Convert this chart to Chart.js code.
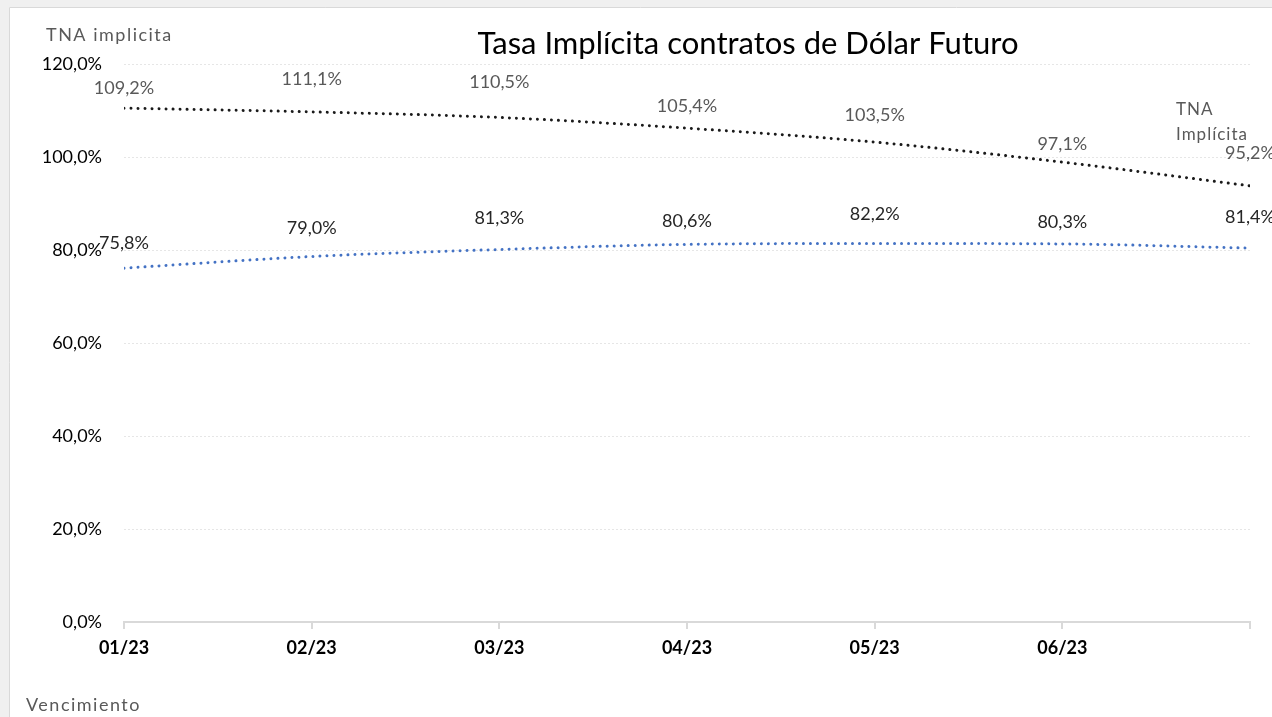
<!DOCTYPE html>
<html>
<head>
<meta charset="utf-8">
<script src="https://cdn.jsdelivr.net/npm/chart.js@4.4.1/dist/chart.umd.min.js"></script>
<style>
  html, body { margin: 0; padding: 0; background: #f0f0f0; }
  #wrap { position: absolute; left: 0; top: 0; width: 1272px; height: 717px; }
</style>
</head>
<body>
<div id="wrap"><canvas id="tasaChart" width="1272" height="717"></canvas></div>
<script>
// vencimientos (la ultima marca no tiene etiqueta en el original)
const xLabels = ['01/23', '02/23', '03/23', '04/23', '05/23', '06/23', ''];
const xPos = [0, 1, 2, 3, 4, 5, 6];

// valores etiquetados de cada contrato
const tnaImplicita = [109.2, 111.1, 110.5, 105.4, 103.5, 97.1, 95.2];
const tnaAzul = [75.8, 79.0, 81.3, 80.6, 82.2, 80.3, 81.4];

// lineas de tendencia
const tendImplicita = [110.5, 109.7, 108.5, 106.2, 103.2, 98.9, 93.8];
const tendAzul = [76.1, 78.6, 80.1, 81.2, 81.4, 81.3, 80.4];

const yTicks = [0, 20, 40, 60, 80, 100, 120];

const FONT = 'Lato, "Open Sans", sans-serif';

function fmtPct(v) {
  return v.toFixed(1).replace('.', ',') + '%';
}

function toPoints(arr) {
  return arr.map((v, i) => ({ x: xPos[i], y: v }));
}

// fondo, textos y etiquetas de datos
const textosPlugin = {
  id: 'textos',
  beforeDraw(chart) {
    const ctx = chart.ctx;
    ctx.save();
    ctx.fillStyle = '#f0f0f0';
    ctx.fillRect(0, 0, chart.width, chart.height);
    ctx.fillStyle = '#ffffff';
    ctx.fillRect(9, 7, chart.width - 9, chart.height - 7);
    ctx.strokeStyle = '#d9d9d9';
    ctx.lineWidth = 1;
    ctx.beginPath();
    ctx.moveTo(9.5, chart.height);
    ctx.lineTo(9.5, 7.5);
    ctx.lineTo(chart.width, 7.5);
    ctx.stroke();
    ctx.restore();
  },
  afterDraw(chart) {
    const ctx = chart.ctx;
    ctx.save();
    ctx.textBaseline = 'middle';

    ctx.fillStyle = '#000000';
    ctx.textAlign = 'center';
    ctx.font = '31px ' + FONT;
    ctx.fillText('Tasa Implícita contratos de Dólar Futuro', 748, 44);

    ctx.fillStyle = '#595959';
    ctx.textAlign = 'left';
    ctx.font = '18px ' + FONT;
    ctx.letterSpacing = '1.5px';
    ctx.fillText('TNA implicita', 46, 35);
    ctx.fillText('Vencimiento', 26, 705);

    ctx.font = '17px ' + FONT;
    ctx.letterSpacing = '1px';
    ctx.fillText('TNA', 1176, 110);
    ctx.fillText('Implícita', 1176, 135);
    ctx.letterSpacing = '0px';

    // etiquetas de datos
    ctx.textAlign = 'center';
    ctx.font = '18px ' + FONT;
    [[0, '#595959'], [1, '#262626']].forEach(([idx, col]) => {
      const meta = chart.getDatasetMeta(idx);
      const vals = chart.data.datasets[idx].data;
      ctx.fillStyle = col;
      meta.data.forEach((pt, i) => {
        ctx.fillText(fmtPct(vals[i].y), pt.x, pt.y - 26);
      });
    });
    ctx.restore();
  }
};

const ctx = document.getElementById('tasaChart').getContext('2d');
const tasaChart = new Chart(ctx, {
  type: 'line',
  data: {
    datasets: [
      {
        label: 'TNA Implícita',
        data: toPoints(tnaImplicita),
        showLine: false,
        pointRadius: 0
      },
      {
        label: 'TNA',
        data: toPoints(tnaAzul),
        showLine: false,
        pointRadius: 0
      },
      {
        label: 'Tendencia TNA Implícita',
        data: toPoints(tendImplicita),
        borderColor: '#1a1a1a',
        borderWidth: 3,
        borderDash: [0.01, 7],
        borderCapStyle: 'round',
        cubicInterpolationMode: 'monotone',
        pointRadius: 0,
        fill: false
      },
      {
        label: 'Tendencia TNA',
        data: toPoints(tendAzul),
        borderColor: '#4472c4',
        borderWidth: 3,
        borderDash: [0.01, 7],
        borderCapStyle: 'round',
        cubicInterpolationMode: 'monotone',
        pointRadius: 0,
        fill: false
      }
    ]
  },
  options: {
    responsive: false,
    animation: false,
    events: [],
    layout: {
      padding: { left: 0, right: 22, top: 64, bottom: 0 }
    },
    plugins: {
      legend: { display: false },
      title: { display: false },
      tooltip: { enabled: false }
    },
    scales: {
      x: {
        type: 'linear',
        min: 0,
        max: 6,
        afterFit(scale) { scale.height = 95; },
        afterBuildTicks(scale) {
          scale.ticks = xPos.map(v => ({ value: v }));
        },
        ticks: {
          autoSkip: false,
          maxRotation: 0,
          padding: 8,
          color: '#000000',
          font: { family: FONT, size: 18, weight: 'bold' },
          callback: (v) => xLabels[v] ?? ''
        },
        grid: {
          drawOnChartArea: false,
          drawTicks: true,
          tickLength: 7,
          color: '#d9d9d9',
          lineWidth: 2
        },
        border: { display: true, color: '#d9d9d9', width: 2 }
      },
      y: {
        min: 0,
        max: 120,
        afterFit(scale) { scale.width = 124; },
        afterBuildTicks(scale) {
          scale.ticks = yTicks.map(v => ({ value: v }));
        },
        ticks: {
          padding: 22,
          color: '#000000',
          font: { family: FONT, size: 18 },
          callback: (v) => fmtPct(v)
        },
        grid: {
          drawTicks: false,
          color: '#e6e6e6',
          lineWidth: 1
        },
        border: { display: false, dash: [2, 2] }
      }
    }
  },
  plugins: [textosPlugin]
});
</script>
</body>
</html>
